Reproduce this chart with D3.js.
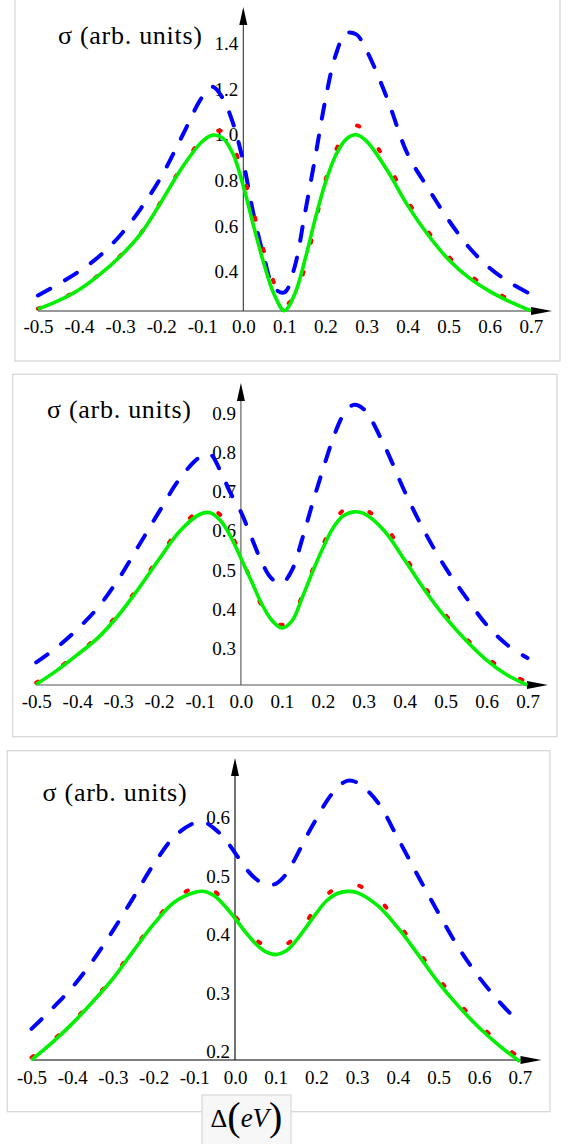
<!DOCTYPE html>
<html>
<head>
<meta charset="utf-8">
<script src="https://cdn.jsdelivr.net/npm/d3@7"></script>
<style>
  body { margin: 0; background: #fff; }
  svg { display: block; }
</style>
</head>
<body>
<svg id="chart" width="567" height="1144"></svg>
<script>
// Detuning values (eV) shared by all three panels
const deltaX = [-0.5, -0.45, -0.4, -0.35, -0.3, -0.25, -0.2, -0.15, -0.1, -0.075, -0.05, -0.025, 0,
  0.025, 0.05, 0.075, 0.1, 0.125, 0.15, 0.175, 0.2, 0.225, 0.25, 0.275, 0.3,
  0.35, 0.4, 0.45, 0.5, 0.55, 0.6, 0.65, 0.7];

const xTicks = [-0.5, -0.4, -0.3, -0.2, -0.1, 0, 0.1, 0.2, 0.3, 0.4, 0.5, 0.6, 0.7];

// Panel 1
const yTicks1 = [0.4, 0.6, 0.8, 1.0, 1.2, 1.4];
const blue1 = [0.295, 0.345, 0.40, 0.468, 0.558, 0.675, 0.815, 0.99, 1.165, 1.21, 1.16, 1.05, 0.88,
  0.65, 0.465, 0.328, 0.308, 0.42, 0.655, 0.90, 1.155, 1.35, 1.445, 1.44, 1.37,
  1.16, 0.915, 0.765, 0.625, 0.505, 0.415, 0.35, 0.30];
const red1 = [0.237, 0.274, 0.322, 0.388, 0.468, 0.567, 0.708, 0.858, 0.98, 1.01, 1.015, 0.95, 0.82,
  0.66, 0.49, 0.35, 0.255, 0.29, 0.42, 0.61, 0.80, 0.93, 1.01, 1.04, 1.01,
  0.875, 0.71, 0.575, 0.465, 0.385, 0.325, 0.275, 0.235];
const green1 = [0.235, 0.272, 0.32, 0.386, 0.466, 0.565, 0.705, 0.853, 0.97, 0.998, 0.985, 0.915, 0.775,
  0.60, 0.435, 0.30, 0.228, 0.30, 0.45, 0.63, 0.79, 0.91, 0.98, 1.0, 0.972,
  0.845, 0.69, 0.56, 0.452, 0.372, 0.313, 0.267, 0.228];

// Panel 2
const yTicks2 = [0.3, 0.4, 0.5, 0.6, 0.7, 0.8, 0.9];
const blue2 = [0.264, 0.302, 0.348, 0.403, 0.475, 0.561, 0.648, 0.732, 0.788, 0.795, 0.752, 0.695, 0.648,
  0.585, 0.522, 0.478, 0.466, 0.50, 0.58, 0.67, 0.755, 0.835, 0.895, 0.921, 0.91,
  0.818, 0.70, 0.595, 0.505, 0.43, 0.36, 0.309, 0.275];
const red2 = [0.212, 0.246, 0.286, 0.329, 0.388, 0.456, 0.532, 0.604, 0.652, 0.656, 0.64, 0.595, 0.535,
  0.472, 0.41, 0.372, 0.36, 0.376, 0.435, 0.50, 0.562, 0.618, 0.652, 0.662, 0.656,
  0.615, 0.535, 0.455, 0.385, 0.325, 0.277, 0.24, 0.213];
const green2 = [0.208, 0.243, 0.283, 0.326, 0.383, 0.452, 0.527, 0.598, 0.642, 0.646, 0.626, 0.585, 0.53,
  0.473, 0.415, 0.372, 0.352, 0.37, 0.43, 0.495, 0.555, 0.607, 0.638, 0.648, 0.644,
  0.60, 0.525, 0.447, 0.378, 0.32, 0.27, 0.232, 0.206];

// Panel 3
const yTicks3 = [0.2, 0.3, 0.4, 0.5, 0.6];
const blue3 = [0.239, 0.273, 0.31, 0.355, 0.407, 0.463, 0.52, 0.567, 0.591, 0.592, 0.581, 0.564, 0.54,
  0.515, 0.496, 0.486, 0.487, 0.503, 0.533, 0.567, 0.598, 0.628, 0.65, 0.663, 0.66,
  0.627, 0.565, 0.50, 0.437, 0.377, 0.327, 0.285, 0.248];
const red3 = [0.19, 0.218, 0.25, 0.287, 0.327, 0.375, 0.42, 0.46, 0.48, 0.481, 0.474, 0.455, 0.432,
  0.41, 0.392, 0.381, 0.378, 0.383, 0.398, 0.422, 0.447, 0.468, 0.48, 0.486, 0.485,
  0.463, 0.42, 0.372, 0.325, 0.283, 0.247, 0.215, 0.19];
const green3 = [0.186, 0.215, 0.248, 0.285, 0.325, 0.372, 0.418, 0.455, 0.472, 0.474, 0.466, 0.449, 0.428,
  0.405, 0.385, 0.371, 0.366, 0.372, 0.39, 0.413, 0.437, 0.458, 0.47, 0.474, 0.472,
  0.45, 0.412, 0.366, 0.318, 0.277, 0.241, 0.21, 0.183];

const yTitle = "σ (arb. units)";
const serif = "'Liberation Serif', 'Times New Roman', serif";

// layout of the three framed panels
const panels = [
  { frame: [15, -2, 560, 361], xRange: [37.95, 530.8], yDomain: [0.4, 1.4], yRange: [271.5, 43.5],
    axisY: 311, yTop: 7, xTip: 552, titleX: 58, titleY: 36, labelDy: 16, axisColor: "#333",
    yTicks: yTicks1, series: [blue1, red1, green1] },
  { frame: [12.7, 374.3, 557, 736.7], xRange: [36.2, 527.5], yDomain: [0.3, 0.9], yRange: [648.3, 413.1],
    axisY: 685, yTop: 383, xTip: 548, titleX: 47, titleY: 410, labelDy: 17, axisColor: "#555",
    yTicks: yTicks2, series: [blue2, red2, green2] },
  { frame: [7.2, 750.7, 550, 1111.7], xRange: [31.5, 519.9], yDomain: [0.2, 0.6], yRange: [1051.7, 817.7],
    axisY: 1060, yTop: 758, xTip: 541.5, titleX: 42.6, titleY: 793, labelDy: 18, axisColor: "#000",
    yTicks: yTicks3, series: [blue3, red3, green3] }
];

const styles = [
  { stroke: "#0000ff", width: 4, dash: "14,17", cap: "round" },
  { stroke: "#ff0000", width: 4, dash: "2.5,30", cap: "round" },
  { stroke: "#00f000", width: 3.6, dash: null, cap: "butt" }
];

const svg = d3.select("#chart");
const fmt = d => d.toFixed(1);

panels.forEach(p => drawPanel(p));

function drawPanel(p) {
  const [fx0, fy0, fx1, fy1] = p.frame;
  svg.append("rect")
    .attr("x", fx0).attr("y", fy0)
    .attr("width", fx1 - fx0).attr("height", fy1 - fy0)
    .attr("fill", "#fff")
    .attr("stroke", "#d4d4d4")
    .attr("stroke-width", 1.2);

  const x = d3.scaleLinear().domain([-0.5, 0.7]).range(p.xRange);
  const y = d3.scaleLinear().domain(p.yDomain).range(p.yRange);
  const g = svg.append("g");

  // x axis (labels only, line drawn with arrow)
  const xAxis = g.append("g")
    .attr("transform", `translate(0,${p.axisY})`)
    .call(d3.axisBottom(x).tickValues(xTicks).tickSize(0).tickPadding(0).tickFormat(fmt))
    .attr("font-family", null).attr("font-size", null);
  xAxis.select(".domain").remove();
  xAxis.selectAll("text")
    .attr("y", p.labelDy).attr("dy", "0.33em")
    .style("font-size", "19px")
    .style("font-family", serif)
    .attr("fill", "#000");

  // y axis labels
  const yAxis = g.append("g")
    .attr("transform", `translate(${x(0)},0)`)
    .call(d3.axisLeft(y).tickValues(p.yTicks).tickSize(0).tickPadding(5).tickFormat(fmt))
    .attr("font-family", null).attr("font-size", null);
  yAxis.select(".domain").remove();
  yAxis.selectAll("text")
    .attr("dy", "0.33em")
    .style("font-size", "19px")
    .style("font-family", serif)
    .attr("fill", "#000");

  // axis lines with arrowheads
  g.append("line")
    .attr("x1", x(-0.5)).attr("x2", p.xTip - 18)
    .attr("y1", p.axisY).attr("y2", p.axisY)
    .attr("stroke", p.axisColor).attr("stroke-width", 1.1);
  g.append("path")
    .attr("d", `M${p.xTip},${p.axisY} L${p.xTip - 21},${p.axisY - 4} L${p.xTip - 21},${p.axisY + 4} Z`)
    .attr("fill", "#000");
  g.append("line")
    .attr("x1", x(0)).attr("x2", x(0))
    .attr("y1", p.axisY).attr("y2", p.yTop + 15)
    .attr("stroke", p.axisColor).attr("stroke-width", 1.1);
  g.append("path")
    .attr("d", `M${x(0)},${p.yTop} L${x(0) - 4},${p.yTop + 18} L${x(0) + 4},${p.yTop + 18} Z`)
    .attr("fill", "#000");

  // curves
  const line = d3.line()
    .x((d, i) => x(deltaX[i]))
    .y(d => y(d))
    .curve(d3.curveCatmullRom.alpha(0.5));

  p.series.forEach((vals, k) => {
    const s = styles[k];
    g.append("path")
      .datum(vals)
      .attr("d", line)
      .attr("fill", "none")
      .attr("stroke", s.stroke)
      .attr("stroke-width", s.width)
      .attr("stroke-linecap", s.cap)
      .attr("stroke-dasharray", s.dash);
  });

  // axis title
  g.append("text")
    .attr("x", p.titleX).attr("y", p.titleY)
    .attr("dy", "0.3em")
    .attr("textLength", 144)
    .attr("lengthAdjust", "spacing")
    .style("font-family", serif)
    .style("font-size", "26px")
    .text(yTitle);
}

// Delta(eV) label box below the last panel
const box = svg.append("g");
box.append("rect")
  .attr("x", 202).attr("y", 1095)
  .attr("width", 89).attr("height", 60)
  .attr("fill", "#f7f7f7")
  .attr("stroke", "#cfcfcf");
const lab = box.append("text")
  .attr("x", 246.5).attr("y", 1127)
  .attr("text-anchor", "middle")
  .style("font-family", serif);
lab.append("tspan").style("font-size", "26px").text("Δ");
lab.append("tspan").style("font-size", "40px").attr("dy", 3).text("(");
lab.append("tspan").style("font-size", "27px").style("font-style", "italic").attr("dy", -3).text("eV");
lab.append("tspan").style("font-size", "40px").attr("dy", 3).text(")");
</script>
</body>
</html>
